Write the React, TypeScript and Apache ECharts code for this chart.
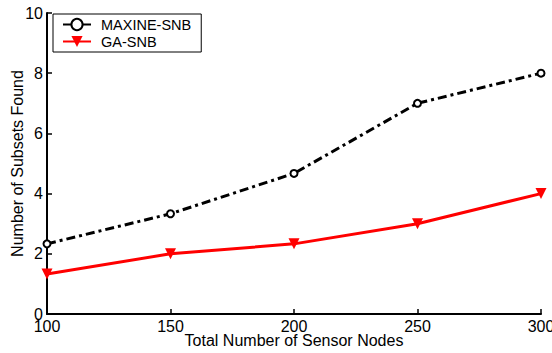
import React, { useEffect, useRef } from "react";
import * as echarts from "echarts";

const nodes = [100, 150, 200, 250, 300];
const maxineSnb = [2.33, 3.33, 4.67, 7, 8];
const gaSnb = [1.33, 2, 2.33, 3, 4];

export default function App() {
  const ref = useRef<HTMLDivElement>(null);
  useEffect(() => {
    const chart = echarts.init(ref.current!, null, { renderer: "svg" });
    const font = "Liberation Sans, Arial, sans-serif";
    chart.setOption({
      animation: false,
      backgroundColor: "#fff",
      grid: { left: 47, right: 11, top: 13, bottom: 39, outerBoundsMode: "none", containLabel: false },
      legend: {
        left: 53,
        top: 14,
        orient: "vertical",
        backgroundColor: "#fff",
        borderColor: "#000",
        borderWidth: 1,
        borderRadius: 0,
        padding: [3, 10, 3, 9],
        itemGap: 2,
        itemWidth: 28,
        itemHeight: 14,
        textStyle: { fontFamily: font, fontSize: 14.5, color: "#000", padding: [0, 0, 0, 5] },
        data: ["MAXINE-SNB", "GA-SNB"],
      },
      xAxis: {
        type: "value",
        min: 100,
        max: 300,
        interval: 50,
        name: "Total Number of Sensor Nodes",
        nameLocation: "middle",
        nameGap: 18,
        nameMoveOverlap: false,
        nameTextStyle: { fontFamily: font, fontSize: 16, color: "#000" },
        axisLine: { lineStyle: { color: "#000", width: 2 } },
        axisTick: { inside: true, length: 5, lineStyle: { color: "#000", width: 1.5 } },
        axisLabel: { fontFamily: font, fontSize: 16, color: "#000", margin: 4 },
        splitLine: { show: false },
      },
      yAxis: {
        type: "value",
        min: 0,
        max: 10,
        interval: 2,
        name: "Number of Subsets Found",
        nameLocation: "middle",
        nameGap: 22,
        nameMoveOverlap: false,
        nameTextStyle: { fontFamily: font, fontSize: 16, color: "#000" },
        axisLine: { show: true, lineStyle: { color: "#000", width: 2 } },
        axisTick: { show: true, inside: true, length: 5, lineStyle: { color: "#000", width: 1.5 } },
        axisLabel: { fontFamily: font, fontSize: 16, color: "#000", margin: 4 },
        splitLine: { show: false },
      },
      series: [
        {
          name: "MAXINE-SNB",
          type: "line",
          data: nodes.map((x, i) => [x, maxineSnb[i]]),
          symbol: "emptyCircle",
          symbolSize: 7,
          itemStyle: { color: "#000", borderColor: "#000", borderWidth: 2 },
          lineStyle: { color: "#000", width: 3, type: [9, 4, 3, 4] },
          z: 3,
        },
        {
          name: "GA-SNB",
          type: "line",
          data: nodes.map((x, i) => [x, gaSnb[i]]),
          symbol: "triangle",
          symbolRotate: 180,
          symbolSize: 11,
          itemStyle: { color: "#ff0000" },
          lineStyle: { color: "#ff0000", width: 3 },
          z: 2,
        },
      ],
    });
    return () => chart.dispose();
  }, []);
  return <div ref={ref} style={{ width: 552, height: 353, position: "absolute", left: 0, top: 0 }} />;
}
